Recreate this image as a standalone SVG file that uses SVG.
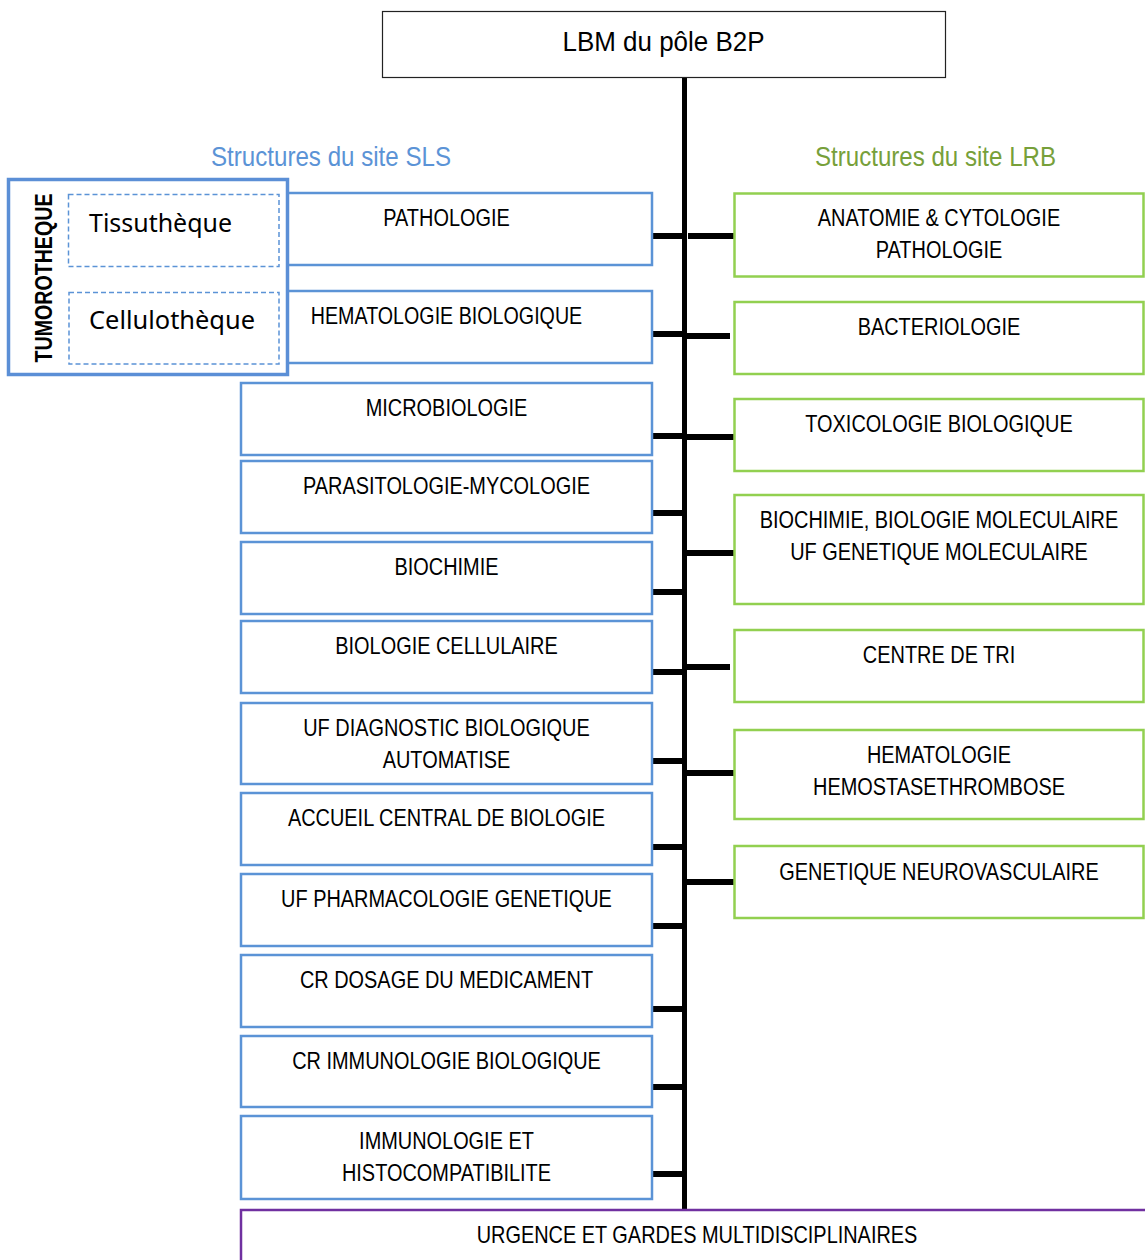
<svg xmlns="http://www.w3.org/2000/svg" width="1145" height="1260" viewBox="0 0 1145 1260">
<style>
.bg{fill:#fff}
.lb{fill:#fff;stroke:#5B93D6;stroke-width:2.5}
.rb{fill:#fff;stroke:#92D050;stroke-width:2.5}
.pb{fill:#fff;stroke:#7030A0;stroke-width:2.5}
.t{font-family:"Liberation Sans",Arial,sans-serif;font-size:24px;fill:#000;text-anchor:middle}
.h{font-family:"Liberation Sans",Arial,sans-serif;font-size:28px;text-anchor:middle}
.c{stroke:#000;stroke-width:6;fill:none}
.dash{fill:none;stroke:#5B93D6;stroke-width:1.5;stroke-dasharray:5 3}
.cal{font-family:"Noto Sans","Open Sans",sans-serif;font-size:26px;fill:#000}
</style>
<rect class="bg" x="0" y="0" width="1145" height="1260"/>

<g id="connectors">
<line class="c" x1="684.5" y1="77" x2="684.5" y2="1210" style="stroke-width:5"/>
<line class="c" x1="652" y1="236" x2="682" y2="236"/>
<line class="c" x1="688" y1="236" x2="734" y2="236"/>
<line class="c" x1="652" y1="334" x2="687" y2="334"/>
<line class="c" x1="652" y1="436" x2="687" y2="436"/>
<line class="c" x1="652" y1="513" x2="687" y2="513"/>
<line class="c" x1="652" y1="592" x2="687" y2="592"/>
<line class="c" x1="652" y1="672" x2="687" y2="672"/>
<line class="c" x1="652" y1="761" x2="687" y2="761"/>
<line class="c" x1="652" y1="847" x2="687" y2="847"/>
<line class="c" x1="652" y1="926" x2="687" y2="926"/>
<line class="c" x1="652" y1="1009" x2="687" y2="1009"/>
<line class="c" x1="652" y1="1087" x2="687" y2="1087"/>
<line class="c" x1="652" y1="1174" x2="687" y2="1174"/>
<line class="c" x1="682" y1="336" x2="730" y2="336"/>
<line class="c" x1="682" y1="437" x2="734" y2="437"/>
<line class="c" x1="682" y1="553" x2="734" y2="553"/>
<line class="c" x1="682" y1="667" x2="730" y2="667"/>
<line class="c" x1="682" y1="773" x2="734" y2="773"/>
<line class="c" x1="682" y1="882" x2="734" y2="882"/>
</g>

<g id="root">
<rect x="382.5" y="11.5" width="563" height="66" fill="#fff" stroke="#222" stroke-width="1.2"/>
<text class="t" x="663.5" y="51" style="font-size:28px" textLength="202" lengthAdjust="spacingAndGlyphs">LBM du pôle B2P</text>
</g>

<g id="header-sls"><text class="h" x="331" y="166" fill="#5B93D6" textLength="240" lengthAdjust="spacingAndGlyphs">Structures du site SLS</text></g>
<g id="header-lrb"><text class="h" x="935.5" y="166" fill="#77A03A" textLength="241" lengthAdjust="spacingAndGlyphs">Structures du site LRB</text></g>

<g id="l1"><rect class="lb" x="241" y="193" width="411" height="72"/><text class="t" transform="translate(446.5 226) scale(0.83 1)">PATHOLOGIE</text></g>
<g id="l2"><rect class="lb" x="241" y="291" width="411" height="72"/><text class="t" transform="translate(446.5 324) scale(0.82 1)">HEMATOLOGIE BIOLOGIQUE</text></g>
<g id="l3"><rect class="lb" x="241" y="383" width="411" height="72"/><text class="t" transform="translate(446.5 416) scale(0.83 1)">MICROBIOLOGIE</text></g>
<g id="l4"><rect class="lb" x="241" y="461" width="411" height="72"/><text class="t" transform="translate(446.5 494) scale(0.83 1)">PARASITOLOGIE-MYCOLOGIE</text></g>
<g id="l5"><rect class="lb" x="241" y="542" width="411" height="72"/><text class="t" transform="translate(446.5 575) scale(0.83 1)">BIOCHIMIE</text></g>
<g id="l6"><rect class="lb" x="241" y="621" width="411" height="72"/><text class="t" transform="translate(446.5 654) scale(0.83 1)">BIOLOGIE CELLULAIRE</text></g>
<g id="l7"><rect class="lb" x="241" y="703" width="411" height="81"/><text class="t" transform="translate(446.5 736) scale(0.83 1)">UF DIAGNOSTIC BIOLOGIQUE</text><text class="t" transform="translate(446.5 768) scale(0.83 1)">AUTOMATISE</text></g>
<g id="l8"><rect class="lb" x="241" y="793" width="411" height="72"/><text class="t" transform="translate(446.5 826) scale(0.83 1)">ACCUEIL CENTRAL DE BIOLOGIE</text></g>
<g id="l9"><rect class="lb" x="241" y="874" width="411" height="72"/><text class="t" transform="translate(446.5 907) scale(0.83 1)">UF PHARMACOLOGIE GENETIQUE</text></g>
<g id="l10"><rect class="lb" x="241" y="955" width="411" height="72"/><text class="t" transform="translate(446.5 988) scale(0.83 1)">CR DOSAGE DU MEDICAMENT</text></g>
<g id="l11"><rect class="lb" x="241" y="1036" width="411" height="71"/><text class="t" transform="translate(446.5 1069) scale(0.83 1)">CR IMMUNOLOGIE BIOLOGIQUE</text></g>
<g id="l12"><rect class="lb" x="241" y="1116" width="411" height="83"/><text class="t" transform="translate(446.5 1149) scale(0.83 1)">IMMUNOLOGIE ET</text><text class="t" transform="translate(446.5 1181) scale(0.83 1)">HISTOCOMPATIBILITE</text></g>

<g id="tumorotheque">
<rect x="8.5" y="179.5" width="279" height="195" fill="#fff" stroke="#5B8FD6" stroke-width="3.5"/>
<text transform="translate(52 278) rotate(-90)" text-anchor="middle" font-family="Liberation Sans,Arial,sans-serif" font-weight="bold" font-size="23" textLength="169" lengthAdjust="spacingAndGlyphs">TUMOROTHEQUE</text>
<g id="tissutheque"><rect class="dash" x="68.5" y="194.5" width="210.5" height="72"/><text class="cal" x="89" y="232" textLength="143" lengthAdjust="spacingAndGlyphs">Tissuthèque</text></g>
<g id="cellulotheque"><rect class="dash" x="69" y="292.5" width="210" height="71.5"/><text class="cal" x="89" y="329" textLength="166" lengthAdjust="spacingAndGlyphs">Cellulothèque</text></g>
</g>

<g id="r1"><rect class="rb" x="734.5" y="193.5" width="409" height="83"/><text class="t" transform="translate(939 226) scale(0.83 1)">ANATOMIE &amp; CYTOLOGIE</text><text class="t" transform="translate(939 258) scale(0.83 1)">PATHOLOGIE</text></g>
<g id="r2"><rect class="rb" x="734.5" y="302" width="409" height="72"/><text class="t" transform="translate(939 335) scale(0.83 1)">BACTERIOLOGIE</text></g>
<g id="r3"><rect class="rb" x="734.5" y="399" width="409" height="72"/><text class="t" transform="translate(939 432) scale(0.83 1)">TOXICOLOGIE BIOLOGIQUE</text></g>
<g id="r4"><rect class="rb" x="734.5" y="495" width="409" height="109"/><text class="t" transform="translate(939 528) scale(0.83 1)">BIOCHIMIE, BIOLOGIE MOLECULAIRE</text><text class="t" transform="translate(939 560) scale(0.83 1)">UF GENETIQUE MOLECULAIRE</text></g>
<g id="r5"><rect class="rb" x="734.5" y="630" width="409" height="72"/><text class="t" transform="translate(939 663) scale(0.83 1)">CENTRE DE TRI</text></g>
<g id="r6"><rect class="rb" x="734.5" y="730" width="409" height="89"/><text class="t" transform="translate(939 763) scale(0.83 1)">HEMATOLOGIE</text><text class="t" transform="translate(939 795) scale(0.83 1)">HEMOSTASETHROMBOSE</text></g>
<g id="r7"><rect class="rb" x="734.5" y="846" width="409" height="72"/><text class="t" transform="translate(939 880) scale(0.83 1)">GENETIQUE NEUROVASCULAIRE</text></g>

<g id="urgence"><rect class="pb" x="241" y="1210" width="920" height="60"/><text class="t" transform="translate(697 1243) scale(0.83 1)">URGENCE ET GARDES MULTIDISCIPLINAIRES</text></g>
</svg>
